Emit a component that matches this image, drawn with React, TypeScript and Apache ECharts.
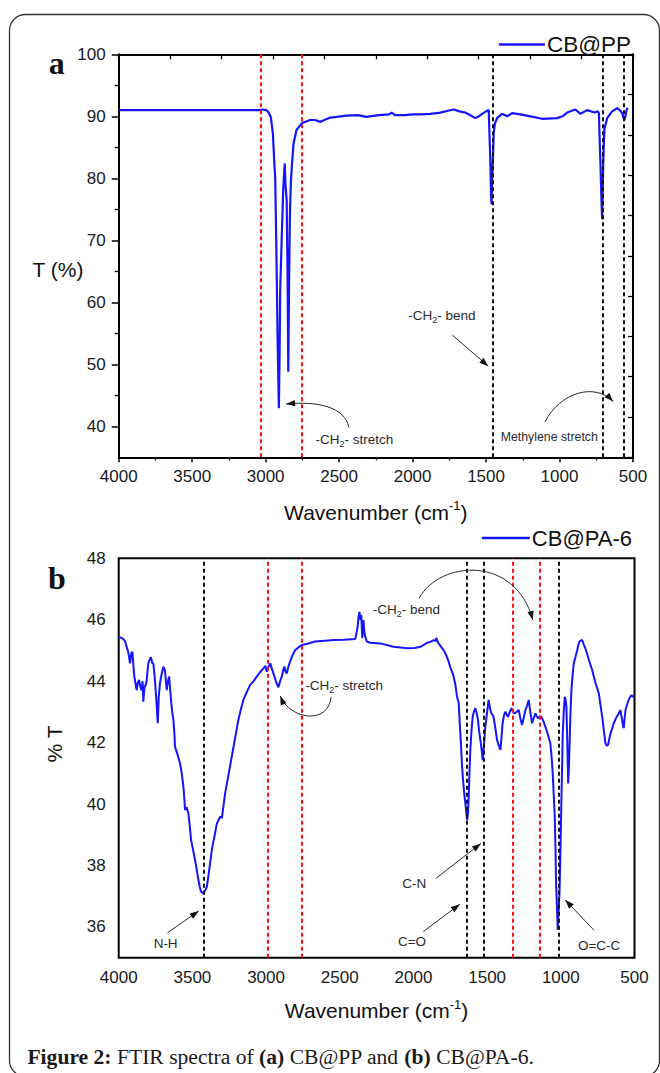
import React, { useEffect, useRef } from 'react';
import * as echarts from 'echarts';

const FONT = "'Liberation Sans', Arial, Helvetica, sans-serif";
const SERIF = "'Liberation Serif', 'Times New Roman', serif";
const BLUE = '#1414ff';
const RED = '#ff1010';
const BLACK = '#111111';

// ---------- Panel a : CB@PP ----------
const ppWavenumber = [4000, 3500, 3100, 3040, 3020, 3000, 2988, 2975, 2965, 2951, 2940, 2935, 2928, 2922, 2919, 2914, 2910, 2905, 2901, 2891, 2880, 2870, 2865, 2857, 2851, 2846, 2841, 2835, 2828, 2820, 2810, 2790, 2753, 2720, 2697, 2663, 2629, 2600, 2561, 2515, 2450, 2372, 2314, 2228, 2160, 2142, 2120, 2056, 2000, 1941, 1880, 1811, 1760, 1721, 1680, 1641, 1610, 1573, 1550, 1527, 1500, 1482, 1471, 1466, 1463, 1458, 1452, 1448, 1440, 1425, 1391, 1357, 1323, 1266, 1198, 1119, 1016, 980, 948, 892, 858, 812, 762, 740, 732, 726, 721, 714, 710, 706, 703, 698, 694, 676, 642, 608, 590, 574, 565, 558, 550, 544, 538];
const ppTransmittance = [91.0, 91.0, 91.0, 91.0, 91.1, 91.0, 90.9, 90.4, 89.9, 87.3, 82.0, 80.3, 70.0, 60.0, 54.5, 48.0, 42.9, 52.0, 62.0, 70.0, 78.4, 82.4, 79.0, 76.5, 65.0, 48.8, 62.0, 74.0, 79.5, 82.5, 85.6, 87.8, 88.9, 89.2, 89.4, 89.4, 89.1, 89.4, 89.8, 89.9, 90.1, 90.2, 89.9, 90.2, 90.3, 90.6, 90.2, 90.2, 90.3, 90.3, 90.4, 90.6, 90.9, 91.1, 90.8, 90.6, 90.2, 89.7, 90.0, 90.4, 90.8, 91.0, 83.0, 77.0, 75.8, 80.0, 84.0, 87.3, 88.8, 89.7, 90.4, 90.0, 90.5, 90.3, 90.0, 89.6, 89.7, 90.0, 90.6, 91.1, 90.4, 91.0, 90.6, 90.8, 90.5, 85.6, 82.0, 76.0, 73.4, 78.0, 82.0, 86.0, 88.0, 89.7, 90.8, 91.3, 91.0, 90.5, 89.8, 89.4, 90.2, 91.0, 91.4];
const ppRedLines = [3031, 2753];
const ppBlackLines = [1456, 706, 563];
const ppYLabels = [40, 50, 60, 70, 80, 90, 100];
const ppYMinor = [45, 55, 65, 75, 85, 95];

// ---------- Panel b : CB@PA-6 ----------
const pa6Wavenumber = [4000, 3970, 3957, 3945, 3935, 3923, 3915, 3907, 3900, 3894, 3885, 3878, 3870, 3862, 3852, 3844, 3838, 3833, 3825, 3815, 3810, 3799, 3790, 3781, 3773, 3765, 3757, 3749, 3742, 3735, 3728, 3720, 3710, 3697, 3686, 3680, 3674, 3666, 3658, 3652, 3645, 3637, 3629, 3622, 3618, 3600, 3584, 3572, 3561, 3555, 3550, 3540, 3527, 3518, 3509, 3495, 3482, 3470, 3459, 3450, 3441, 3425, 3412, 3402, 3390, 3380, 3365, 3346, 3335, 3323, 3310, 3300, 3290, 3278, 3255, 3233, 3210, 3188, 3170, 3154, 3130, 3108, 3085, 3063, 3040, 3018, 3005, 2995, 2985, 2972, 2960, 2943, 2930, 2916, 2905, 2893, 2882, 2875, 2867, 2859, 2850, 2837, 2820, 2803, 2780, 2757, 2720, 2667, 2600, 2542, 2470, 2395, 2385, 2379, 2372, 2366, 2360, 2354, 2350, 2347, 2343, 2339, 2333, 2327, 2316, 2293, 2225, 2135, 2044, 1990, 1954, 1930, 1908, 1885, 1863, 1850, 1845, 1837, 1829, 1810, 1795, 1778, 1761, 1750, 1738, 1730, 1716, 1704, 1693, 1687, 1682, 1676, 1670, 1662, 1653, 1645, 1636, 1630, 1625, 1620, 1614, 1606, 1598, 1590, 1580, 1570, 1562, 1555, 1546, 1538, 1530, 1522, 1512, 1500, 1490, 1480, 1471, 1463, 1456, 1445, 1433, 1420, 1410, 1402, 1395, 1385, 1376, 1367, 1358, 1346, 1335, 1324, 1313, 1300, 1286, 1275, 1263, 1252, 1240, 1229, 1218, 1207, 1195, 1184, 1172, 1163, 1154, 1143, 1132, 1118, 1105, 1090, 1071, 1062, 1055, 1048, 1041, 1036, 1032, 1026, 1021, 1015, 1009, 1002, 996, 990, 987, 980, 973, 968, 962, 956, 950, 945, 941, 935, 928, 920, 912, 900, 889, 880, 874, 865, 855, 845, 833, 810, 787, 765, 742, 730, 719, 708, 697, 688, 679, 672, 663, 652, 641, 625, 607, 595, 590, 584, 578, 573, 567, 561, 550, 539, 528, 520, 512, 505];
const pa6Transmittance = [45.45, 45.38, 45.3, 45.1, 44.94, 44.58, 44.9, 44.96, 44.5, 44.15, 43.9, 43.71, 43.95, 44.04, 43.8, 43.7, 44.0, 43.33, 43.8, 43.9, 44.04, 44.58, 44.7, 44.78, 44.6, 44.58, 44.2, 43.7, 43.2, 42.63, 43.5, 43.93, 44.2, 44.47, 44.36, 44.0, 43.71, 44.0, 44.15, 43.8, 43.39, 43.0, 42.74, 42.3, 41.87, 41.6, 41.33, 41.0, 40.57, 40.2, 39.81, 39.9, 39.7, 39.3, 38.83, 38.5, 38.18, 37.85, 37.53, 37.3, 37.15, 37.09, 37.2, 37.31, 37.7, 38.07, 38.6, 39.05, 39.35, 39.48, 39.6, 39.54, 39.9, 40.35, 40.95, 41.54, 42.15, 42.74, 43.1, 43.39, 43.65, 43.88, 44.0, 44.15, 44.3, 44.42, 44.5, 44.31, 44.45, 44.58, 44.4, 44.15, 43.95, 43.8, 44.0, 44.15, 44.4, 44.47, 44.3, 44.26, 44.45, 44.64, 44.85, 45.01, 45.1, 45.18, 45.22, 45.29, 45.32, 45.34, 45.35, 45.37, 45.6, 45.77, 46.1, 46.26, 46.0, 46.15, 45.7, 45.4, 45.8, 45.99, 45.6, 45.45, 45.29, 45.25, 45.23, 45.12, 45.07, 45.08, 45.12, 45.18, 45.25, 45.28, 45.34, 45.3, 45.41, 45.3, 45.23, 45.1, 45.01, 44.85, 44.64, 44.45, 44.31, 44.2, 43.9, 43.49, 43.3, 42.74, 42.3, 41.8, 41.22, 40.7, 40.24, 39.9, 39.48, 39.7, 40.24, 41.0, 41.76, 42.4, 42.84, 43.0, 43.12, 42.95, 42.74, 42.4, 42.09, 41.8, 41.43, 41.9, 42.52, 43.0, 43.39, 43.1, 42.95, 42.9, 42.84, 42.5, 42.09, 41.9, 41.76, 42.2, 42.63, 42.9, 43.01, 42.9, 42.84, 43.0, 43.12, 43.0, 42.95, 43.0, 43.06, 42.8, 42.57, 42.8, 43.06, 43.2, 43.39, 43.0, 42.63, 42.8, 42.95, 42.85, 42.79, 42.85, 42.84, 42.7, 42.52, 42.3, 41.98, 41.5, 41.0, 40.3, 39.59, 38.5, 37.42, 36.6, 35.9, 36.5, 37.09, 38.6, 40.13, 41.5, 42.3, 43.0, 43.49, 43.4, 43.17, 42.0, 40.67, 41.2, 41.87, 42.9, 43.71, 44.2, 44.58, 44.8, 45.01, 45.2, 45.29, 45.32, 45.34, 45.2, 45.07, 44.7, 44.36, 43.95, 43.6, 43.2, 42.84, 42.4, 41.98, 41.9, 41.93, 42.1, 42.3, 42.45, 42.63, 42.8, 42.95, 43.06, 42.9, 42.74, 42.55, 42.47, 42.8, 43.06, 43.25, 43.39, 43.5, 43.55, 43.5, 43.49];
const pa6RedLines = [2987, 2759, 1323, 1140];
const pa6BlackLines = [3422, 1637, 1526, 1014];
const pa6YLabels = [36, 38, 40, 42, 44, 46, 48];

// annotations in data coordinates [wavenumber, value]
const ppNotes = [
  { parts: ['-CH', '2', '- stretch'], at: [2660, 37.8], size: 13.5, curve: [[2433, 39.8], [2460, 43.1], [2644, 44.1], [2861, 43.6]] },
  { parts: ['-CH', '2', '- bend'], at: [2030, 57.8], size: 13.5, curve: [[1729, 54.7], [1485, 49.7]] },
  { parts: ['Methylene stretch'], at: [1400, 38.2], size: 12.3, curve: [[1099, 40.7], [997, 45.5], [759, 47.1], [635, 44.0]] },
];
const pa6Notes = [
  { parts: ['-CH', '2', '- stretch'], at: [2734, 43.85], size: 13.5, curve: [[2558, 43.49], [2578, 42.57], [2837, 42.74], [2904, 43.52]] },
  { parts: ['-CH', '2', '- bend'], at: [2276, 46.34], size: 13.5, curve: [[1962, 46.7], [1818, 47.94], [1308, 48.11], [1190, 45.99]] },
  { parts: ['N-H'], at: [3763, 35.47], size: 13.5, curve: [[3669, 35.81], [3457, 36.52]] },
  { parts: ['C-N'], at: [2076, 37.42], size: 13.5, curve: [[1848, 37.58], [1542, 38.72]] },
  { parts: ['C=O'], at: [2105, 35.54], size: 13.5, curve: [[1933, 35.85], [1685, 36.74]] },
  { parts: ['O=C-C'], at: [884, 35.39], size: 13.5, curve: [[776, 35.9], [970, 36.88]] },
];

const pairs = (xs: number[], ys: number[]) => xs.map((x, i) => [x, ys[i]]);
const plain = (v: number) => String(v);

const vlines = (red: number[], black: number[]) => ({
  silent: true,
  symbol: ['none', 'none'],
  label: { show: false },
  emphasis: { disabled: true },
  lineStyle: { type: [4, 3], width: 2 },
  data: [
    ...red.map((v) => ({ xAxis: v, lineStyle: { color: RED, type: [4, 3], width: 2 } })),
    ...black.map((v) => ({ xAxis: v, lineStyle: { color: BLACK, type: [4, 3], width: 2 } })),
  ],
});

const axisName = {
  name: '{a|Wavenumber (cm}{s|-1}{a|)}',
  nameLocation: 'middle',
  nameTextStyle: {
    rich: {
      a: { fontSize: 21, fontFamily: FONT, color: '#111', lineHeight: 26 },
      s: { fontSize: 13, fontFamily: FONT, color: '#111', lineHeight: 13, verticalAlign: 'top' },
    },
  },
};

function buildOption(): any {
  return {
    animation: false,
    backgroundColor: '#ffffff',
    grid: [
      { left: 118.7, top: 54.3, width: 514.3, height: 403 },
      { left: 118.7, top: 558.3, width: 515.8, height: 399.4, show: true, borderColor: '#000', borderWidth: 2, backgroundColor: 'transparent' },
    ],
    legend: [
      {
        data: ['CB@PP'], right: 24, top: 28, icon: 'rect', itemWidth: 46, itemHeight: 2.5, itemGap: 4,
        textStyle: { fontSize: 22.5, fontFamily: FONT, color: '#111', padding: [0, 0, 0, -3] },
      },
      {
        data: ['CB@PA-6'], right: 23, top: 522, icon: 'rect', itemWidth: 48, itemHeight: 2.5, itemGap: 4,
        textStyle: { fontSize: 22, fontFamily: FONT, color: '#111', padding: [0, 0, 0, -3] },
      },
    ],
    xAxis: [
      {
        gridIndex: 0, type: 'value', min: 500, max: 4000, interval: 500, inverse: true, position: 'bottom',
        axisLine: { lineStyle: { color: '#000', width: 2 } },
        axisTick: { show: true, inside: false, length: 5, lineStyle: { color: '#000', width: 1.5 } },
        minorTick: { show: true, splitNumber: 2, length: 3, lineStyle: { color: '#000', width: 1.3 } },
        splitLine: { show: false }, minorSplitLine: { show: false },
        axisLabel: { fontSize: 17, fontFamily: FONT, color: '#1a1a1a', margin: 11, formatter: plain },
        ...axisName, nameGap: 42,
      },
      {
        gridIndex: 0, type: 'value', min: 0, max: 10, interval: 1, position: 'top',
        axisLine: { lineStyle: { color: '#000', width: 2 } },
        axisTick: { show: true, inside: true, length: 5, lineStyle: { color: '#000', width: 1.3 } },
        axisLabel: { show: false }, splitLine: { show: false },
      },
      {
        gridIndex: 1, type: 'value', min: 500, max: 4000, interval: 500, inverse: true, position: 'bottom',
        axisLine: { show: false }, axisTick: { show: false }, splitLine: { show: false },
        axisLabel: { fontSize: 17, fontFamily: FONT, color: '#1a1a1a', margin: 11, formatter: plain },
        ...axisName, nameGap: 40,
      },
    ],
    yAxis: [
      {
        gridIndex: 0, type: 'value', min: 35, max: 100, position: 'left',
        axisLine: { show: true, lineStyle: { color: '#000', width: 2 } },
        axisTick: { show: true, length: 7, customValues: ppYLabels, lineStyle: { color: '#000', width: 1.5 } },
        axisLabel: { customValues: ppYLabels, fontSize: 17, fontFamily: FONT, color: '#1a1a1a', margin: 13, formatter: plain },
        splitLine: { show: false },
      },
      {
        gridIndex: 0, type: 'value', min: 35, max: 100, position: 'left', offset: 0,
        axisLine: { show: false },
        axisTick: { show: true, length: 4, customValues: ppYMinor, lineStyle: { color: '#000', width: 1.3 } },
        axisLabel: { show: false }, splitLine: { show: false },
      },
      {
        gridIndex: 0, type: 'value', min: 0, max: 10, interval: 1, position: 'right',
        axisLine: { show: true, lineStyle: { color: '#000', width: 2 } },
        axisTick: { show: true, inside: true, length: 5, lineStyle: { color: '#000', width: 1.3 } },
        axisLabel: { show: false }, splitLine: { show: false },
      },
      {
        gridIndex: 1, type: 'value', min: 35, max: 48, position: 'left',
        axisLine: { show: false }, axisTick: { show: false }, splitLine: { show: false },
        axisLabel: { customValues: pa6YLabels, fontSize: 17, fontFamily: FONT, color: '#1a1a1a', margin: 13, formatter: plain },
      },
    ],
    series: [
      {
        name: 'CB@PP', type: 'line', xAxisIndex: 0, yAxisIndex: 0, data: pairs(ppWavenumber, ppTransmittance),
        symbol: 'none', color: BLUE, lineStyle: { color: BLUE, width: 2.2 }, z: 3,
        markLine: vlines(ppRedLines, ppBlackLines),
      },
      {
        name: 'CB@PA-6', type: 'line', xAxisIndex: 2, yAxisIndex: 3, data: pairs(pa6Wavenumber, pa6Transmittance),
        symbol: 'none', color: BLUE, lineStyle: { color: BLUE, width: 2 }, z: 3,
        markLine: vlines(pa6RedLines, pa6BlackLines),
      },
    ],
  };
}

function noteGraphics(chart: any, notes: any[], xi: number, yi: number) {
  const out: any[] = [];
  const px = (p: number[]) => chart.convertToPixel({ xAxisIndex: xi, yAxisIndex: yi }, p) as number[];
  const GREY = '#2a2a2a';
  notes.forEach((n) => {
    const [tx, ty] = px(n.at);
    const text = n.parts.length === 3 ? `{a|${n.parts[0]}}{s|${n.parts[1]}}{a|${n.parts[2]}}` : `{a|${n.parts[0]}}`;
    out.push({
      type: 'text', x: tx, y: ty, silent: true, z: 20,
      style: {
        text, align: 'left', verticalAlign: 'middle',
        rich: {
          a: { fontSize: n.size, fontFamily: FONT, fill: GREY, lineHeight: 18 },
          s: { fontSize: 9, fontFamily: FONT, fill: GREY, lineHeight: 9, verticalAlign: 'bottom' },
        },
      },
    });
    const pts = n.curve.map((p: number[]) => px(p));
    const tip = pts[pts.length - 1];
    const prev = pts[pts.length - 2];
    if (pts.length === 4) {
      out.push({
        type: 'bezierCurve', silent: true, z: 20,
        shape: { x1: pts[0][0], y1: pts[0][1], cpx1: pts[1][0], cpy1: pts[1][1], cpx2: pts[2][0], cpy2: pts[2][1], x2: tip[0], y2: tip[1] },
        style: { stroke: GREY, lineWidth: 1, fill: 'none' },
      });
    } else {
      out.push({
        type: 'line', silent: true, z: 20,
        shape: { x1: pts[0][0], y1: pts[0][1], x2: tip[0], y2: tip[1] },
        style: { stroke: GREY, lineWidth: 1 },
      });
    }
    const dx = tip[0] - prev[0];
    const dy = tip[1] - prev[1];
    const len = Math.hypot(dx, dy) || 1;
    const ux = dx / len, uy = dy / len;
    const L = 9, W = 3.2;
    const bx = tip[0] - ux * L, by = tip[1] - uy * L;
    out.push({
      type: 'polygon', silent: true, z: 21,
      shape: { points: [[tip[0], tip[1]], [bx - uy * W, by + ux * W], [bx + uy * W, by - ux * W]] },
      style: { fill: '#111', stroke: 'none' },
    });
  });
  return out;
}

function buildGraphics(chart: any) {
  const g: any[] = [
    {
      type: 'rect', silent: true, z: 0,
      shape: { x: 9.5, y: 14.5, width: 650, height: 1062, r: 16 },
      style: { fill: 'none', stroke: '#333', lineWidth: 1.3 },
    },
    { type: 'text', x: 56.8, y: 63, silent: true, style: { text: 'a', fontSize: 32, fontWeight: 'bold', fontFamily: SERIF, fill: '#111', align: 'center', verticalAlign: 'middle' } },
    { type: 'text', x: 56.8, y: 578, silent: true, style: { text: 'b', fontSize: 32, fontWeight: 'bold', fontFamily: SERIF, fill: '#111', align: 'center', verticalAlign: 'middle' } },
    { type: 'text', x: 58, y: 269, silent: true, style: { text: 'T (%)', fontSize: 21, fontFamily: FONT, fill: '#111', align: 'center', verticalAlign: 'middle' } },
    { type: 'text', x: 54.7, y: 744, rotation: Math.PI / 2, silent: true, style: { text: '% T', fontSize: 21, fontFamily: FONT, fill: '#111', align: 'center', verticalAlign: 'middle' } },
    {
      type: 'text', x: 27.4, y: 1056.7, silent: true,
      style: {
        text: '{b|Figure 2:}{r| FTIR spectra of }{b|(a)}{r| CB@PP and }{b|(b)}{r| CB@PA-6.}',
        align: 'left', verticalAlign: 'middle',
        rich: {
          b: { fontSize: 21.6, fontFamily: SERIF, fontWeight: 'bold', fill: '#1a1a1a' },
          r: { fontSize: 21.6, fontFamily: SERIF, fill: '#1a1a1a' },
        },
      },
    },
  ];
  return g.concat(noteGraphics(chart, ppNotes, 0, 0), noteGraphics(chart, pa6Notes, 2, 3));
}

export default function App() {
  const ref = useRef<HTMLDivElement>(null);
  useEffect(() => {
    const chart = echarts.init(ref.current as HTMLDivElement, null, { renderer: 'svg' });
    chart.setOption(buildOption());
    chart.setOption({ graphic: buildGraphics(chart) });
    return () => chart.dispose();
  }, []);
  return (
    <div
      ref={ref}
      style={{ position: 'fixed', left: 0, top: 0, width: 660, height: 1073, background: '#ffffff' }}
    />
  );
}
